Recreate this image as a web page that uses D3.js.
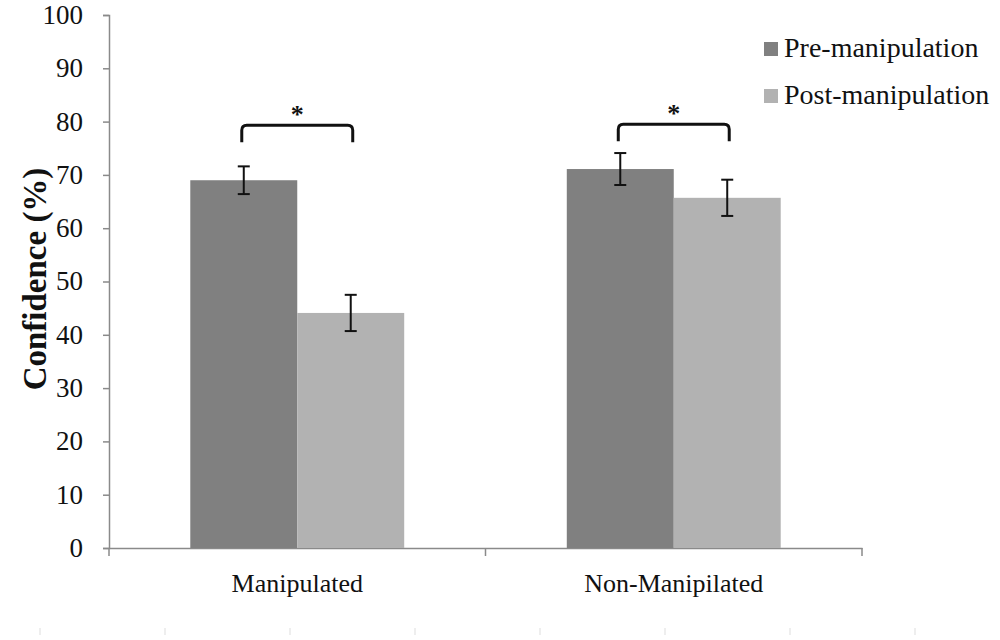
<!DOCTYPE html>
<html lang="en">
<head>
  <meta charset="UTF-8">
  <script src="https://cdn.jsdelivr.net/npm/d3@7"></script>
  <title>Confidence</title>
  <style>
    body { margin: 0; background: #fff; }
    svg text { font-family: "Liberation Serif", "Times New Roman", serif; }
  </style>
</head>
<body>
  <svg width="1000" height="640" id="chart"></svg>
  <script>
  // data
  let categories = ["Manipulated", "Non-Manipilated"]
  let seriesNames = ["Pre-manipulation", "Post-manipulation"]
  let preValues = [69.0, 71.1]
  let postValues = [44.1, 65.7]
  let preErrors = [2.6, 3.0]
  let postErrors = [3.4, 3.4]
  let bracketLevel = [79.3, 79.5] // height of the significance brackets
  let yTicks = [0, 10, 20, 30, 40, 50, 60, 70, 80, 90, 100]

  let colors = ["#808080", "#b2b2b2"]
  let serif = "Liberation Serif"

  let svg = d3.select("#chart")
  let margin = {left: 109, top: 15, right: 138, bottom: 92}
  let width = 1000 - margin.left - margin.right
  let height = 640 - margin.top - margin.bottom

  let g = svg.append("g").attr("transform", `translate(${margin.left},${margin.top})`)

  /* SCALES */
  let scaleX = d3.scaleBand().domain(categories).range([0, width]).paddingInner(0).paddingOuter(0)
  let scaleSub = d3.scaleBand().domain(seriesNames).range([0, scaleX.bandwidth()]).paddingInner(0).paddingOuter(0.76)
  let scaleY = d3.scaleLinear().domain([0, 100]).range([height, 0])

  /* AXES */
  let axisY = d3.axisLeft(scaleY).tickValues(yTicks).tickSize(6).tickFormat("")
  let yAxis = g.append("g").call(axisY)
  yAxis.select(".domain").attr("stroke", "#8a8a8a").attr("stroke-width", 1.5)
  yAxis.selectAll(".tick line").attr("stroke", "#8a8a8a").attr("stroke-width", 1.5)

  // tick labels drawn by hand so the font size sticks
  g.append("g").selectAll("text").data(yTicks).enter().append("text")
    .text(d => d)
    .attr("x", -26)
    .attr("y", d => scaleY(d))
    .attr("dy", "0.33em")
    .attr("text-anchor", "end")
    .attr("font-family", serif)
    .attr("font-size", 27)
    .attr("fill", "#111")

  let axisX = d3.axisBottom(scaleX).tickSize(0).tickFormat("")
  let xAxis = g.append("g").attr("transform", `translate(0,${height})`).call(axisX)
  xAxis.select(".domain").attr("stroke", "#8a8a8a").attr("stroke-width", 1.5)

  g.append("g").selectAll("text").data(categories).enter().append("text")
    .text(d => d)
    .attr("x", d => scaleX(d) + scaleX.bandwidth() / 2)
    .attr("y", height + 44)
    .attr("text-anchor", "middle")
    .attr("font-family", serif)
    .attr("font-size", 26)
    .attr("fill", "#111")

  // category separators on x axis
  let sepX = [0, scaleX.bandwidth(), width]
  g.selectAll(".sep").data(sepX).enter().append("line")
    .attr("x1", d => d).attr("x2", d => d)
    .attr("y1", height).attr("y2", height + 8)
    .attr("stroke", "#8a8a8a").attr("stroke-width", 1.5)

  /* BARS */
  let rows = categories.map((c, i) => [
    {cat: c, name: seriesNames[0], value: preValues[i], err: preErrors[i]},
    {cat: c, name: seriesNames[1], value: postValues[i], err: postErrors[i]}
  ])

  let groups = g.selectAll(".cat").data(rows).enter().append("g")
    .attr("transform", (d, i) => `translate(${scaleX(categories[i])},0)`)

  groups.selectAll("rect").data(d => d).enter().append("rect")
    .attr("x", d => scaleSub(d.name))
    .attr("y", d => scaleY(d.value))
    .attr("width", scaleSub.bandwidth())
    .attr("height", d => height - scaleY(d.value))
    .attr("fill", (d, i) => colors[i])

  /* ERROR BARS */
  let capW = 6
  let eb = groups.selectAll(".err").data(d => d).enter().append("g")
    .attr("transform", d => `translate(${scaleSub(d.name) + scaleSub.bandwidth() / 2},0)`)
  eb.append("line").attr("x1", 0).attr("x2", 0)
    .attr("y1", d => scaleY(d.value + d.err)).attr("y2", d => scaleY(d.value - d.err))
    .attr("stroke", "#111").attr("stroke-width", 2)
  eb.append("line").attr("x1", -capW).attr("x2", capW)
    .attr("y1", d => scaleY(d.value + d.err)).attr("y2", d => scaleY(d.value + d.err))
    .attr("stroke", "#111").attr("stroke-width", 2)
  eb.append("line").attr("x1", -capW).attr("x2", capW)
    .attr("y1", d => scaleY(d.value - d.err)).attr("y2", d => scaleY(d.value - d.err))
    .attr("stroke", "#111").attr("stroke-width", 2)

  /* SIGNIFICANCE BRACKETS */
  groups.each(function(d, i){
    let x1 = scaleSub(seriesNames[0]) + scaleSub.bandwidth() / 2 - 2
    let x2 = scaleSub(seriesNames[1]) + scaleSub.bandwidth() / 2 + 2
    let y = scaleY(bracketLevel[i])
    let drop = 17, r = 5
    let path = `M${x1},${y + drop} L${x1},${y + r} Q${x1},${y} ${x1 + r},${y} L${x2 - r},${y} Q${x2},${y} ${x2},${y + r} L${x2},${y + drop}`
    d3.select(this).append("path").attr("d", path)
      .attr("fill", "none").attr("stroke", "#111").attr("stroke-width", 3)
    d3.select(this).append("text").text("*")
      .attr("x", (x1 + x2) / 2).attr("y", y - 2)
      .attr("text-anchor", "middle")
      .attr("font-family", serif)
      .attr("font-size", 26).attr("font-weight", "bold").attr("fill", "#111")
  })

  /* Y LABEL */
  svg.append("text")
    .text("Confidence (%)")
    .attr("transform", "translate(34,279) rotate(-90)")
    .attr("text-anchor", "middle")
    .attr("dy", "0.35em")
    .attr("font-family", serif)
    .attr("font-size", 33).attr("font-weight", "bold").attr("fill", "#111")

  /* LEGEND */
  let legend = svg.append("g").attr("transform", "translate(764,42)")
  let li = legend.selectAll(".li").data(seriesNames).enter().append("g")
    .attr("transform", (d, i) => `translate(0,${i * 47})`)
  li.append("rect").attr("width", 14).attr("height", 14).attr("fill", (d, i) => colors[i])
  li.append("text").text(d => d).attr("x", 20).attr("y", 15)
    .attr("font-family", serif)
    .attr("font-size", 28).attr("fill", "#111")

  /* faint marks below the chart */
  let faint = [40, 165, 290, 415, 540, 665, 790, 915]
  svg.selectAll(".faint").data(faint).enter().append("line")
    .attr("x1", d => d).attr("x2", d => d).attr("y1", 628).attr("y2", 635)
    .attr("stroke", "#ddd").attr("stroke-width", 1)
  </script>
</body>
</html>
